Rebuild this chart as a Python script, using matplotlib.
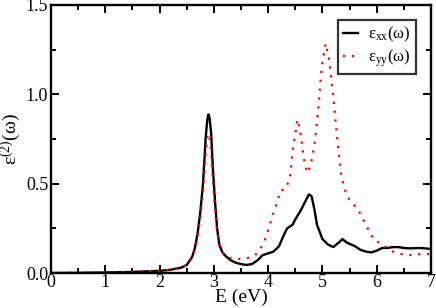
import matplotlib
matplotlib.use('Agg')
import matplotlib.pyplot as plt
from matplotlib.ticker import MultipleLocator

plt.rcParams['font.family'] = ['Liberation Serif', 'DejaVu Serif']
plt.rcParams['mathtext.fontset'] = 'custom'
plt.rcParams['mathtext.rm'] = 'Liberation Serif'
plt.rcParams['mathtext.it'] = 'Liberation Serif'

# eps_xx(omega)
e_xx = [0.0, 0.5, 1.0, 1.5, 2.0, 2.2, 2.4, 2.5, 2.6, 2.65, 2.7, 2.75, 2.8, 2.85,
        2.88, 2.9, 2.92, 2.95, 2.98, 3.02, 3.06, 3.1, 3.15, 3.2, 3.3, 3.4, 3.5,
        3.6, 3.7, 3.8, 3.9, 4.0, 4.1, 4.2, 4.3, 4.35, 4.4, 4.45, 4.5, 4.6, 4.7,
        4.75, 4.8, 4.85, 4.9, 5.0, 5.1, 5.2, 5.3, 5.37, 5.45, 5.6, 5.7, 5.8,
        5.9, 6.0, 6.1, 6.2, 6.3, 6.4, 6.5, 6.6, 6.8, 7.0]
v_xx = [0.0, 0.001, 0.003, 0.006, 0.012, 0.018, 0.03, 0.045, 0.09, 0.14, 0.22,
        0.34, 0.5, 0.76, 0.86, 0.888, 0.87, 0.784, 0.595, 0.406, 0.25, 0.16,
        0.12, 0.1, 0.073, 0.058, 0.05, 0.045, 0.05, 0.07, 0.1, 0.11, 0.12, 0.15,
        0.22, 0.25, 0.26, 0.27, 0.3, 0.35, 0.41, 0.44, 0.43, 0.36, 0.27, 0.19,
        0.16, 0.145, 0.17, 0.19, 0.17, 0.15, 0.13, 0.12, 0.115, 0.125, 0.14,
        0.14, 0.145, 0.145, 0.14, 0.138, 0.14, 0.135]

# eps_yy(omega)
e_yy = [0.0, 0.5, 1.0, 1.5, 2.0, 2.2, 2.4, 2.5, 2.6, 2.65, 2.7, 2.75, 2.8, 2.85,
        2.88, 2.9, 2.92, 2.95, 2.98, 3.02, 3.06, 3.1, 3.15, 3.2, 3.3, 3.4, 3.5,
        3.6, 3.7, 3.8, 3.85, 3.94, 4.0, 4.09, 4.18, 4.22, 4.32, 4.4, 4.46, 4.54,
        4.6, 4.65, 4.72, 4.78, 4.85, 4.92, 4.96, 5.0, 5.06, 5.12, 5.2, 5.27,
        5.35, 5.45, 5.55, 5.65, 5.75, 5.85, 5.95, 6.05, 6.15, 6.25, 6.4, 6.55,
        6.7, 6.85, 7.0]
v_yy = [0.0, 0.001, 0.003, 0.006, 0.012, 0.018, 0.03, 0.045, 0.085, 0.13, 0.2,
        0.31, 0.45, 0.67, 0.76, 0.78, 0.76, 0.68, 0.52, 0.36, 0.23, 0.16, 0.12,
        0.1, 0.085, 0.08, 0.079, 0.082, 0.09, 0.11, 0.13, 0.185, 0.24, 0.33,
        0.41, 0.46, 0.47, 0.53, 0.7, 0.86, 0.78, 0.65, 0.56, 0.6, 0.71, 0.9,
        1.06, 1.18, 1.285, 1.2, 0.99, 0.76, 0.54, 0.43, 0.39, 0.36, 0.3, 0.24,
        0.185, 0.17, 0.15, 0.125, 0.11, 0.1, 0.102, 0.108, 0.105]

fig = plt.figure(figsize=(4.36, 3.08), dpi=100)
ax = fig.add_axes([0.117, 0.1136, 0.8715, 0.8702])

ax.plot(e_xx, v_xx, color='black', lw=1.7, label=r'ε$_{\rm xx}$(ω)')
ax.plot(e_yy, v_yy, color='red', lw=1.6, ls=(0, (1, 3)), label=r'ε$_{\rm yy}$(ω)')

ax.set_xlim(0, 7)
ax.set_ylim(0, 1.5)
ax.xaxis.set_major_locator(MultipleLocator(1))
ax.xaxis.set_minor_locator(MultipleLocator(0.5))
ax.yaxis.set_major_locator(MultipleLocator(0.5))
ax.yaxis.set_minor_locator(MultipleLocator(0.25))
ax.tick_params(which='both', direction='in', top=True, right=True, width=1.4,
               labelsize=13)
ax.tick_params(axis='x', pad=1)
ax.tick_params(axis='y', pad=2)
ax.tick_params(which='major', length=6)
ax.tick_params(which='minor', length=3.5)
ax.set_yticks([0.0, 0.5, 1.0, 1.5])
ax.set_yticklabels(['0.0', '0.5', '1.0', '1.5'])
for s in ax.spines.values():
    s.set_linewidth(1.7)

ax.set_xlabel('E (eV)', fontsize=14, labelpad=-2)
ax.set_ylabel(r'ε$^{(2)}$(ω)', fontsize=14, labelpad=2)

leg = ax.legend(loc='upper right', fontsize=12, frameon=True, fancybox=False,
                handlelength=0.9, handletextpad=0.6, borderpad=0.3,
                labelspacing=0.2, borderaxespad=0.9)
leg.get_frame().set_edgecolor('black')
leg.get_frame().set_linewidth(1.6)

fig.savefig('out.png', dpi=100)
